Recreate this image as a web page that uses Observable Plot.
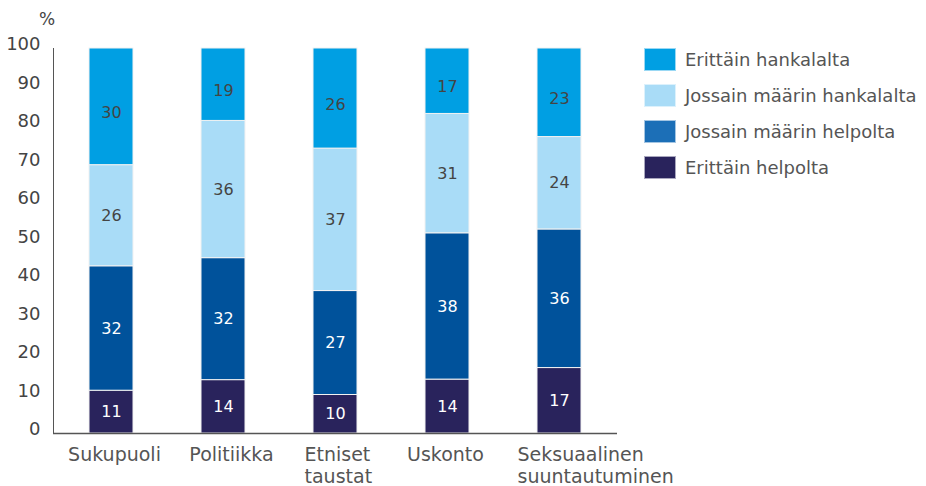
<!DOCTYPE html>
<html>
<head>
<meta charset="utf-8">
<script src="https://cdn.jsdelivr.net/npm/d3@7"></script>
<script src="https://cdn.jsdelivr.net/npm/@observablehq/plot@0.6"></script>
<style>
  html, body { margin: 0; padding: 0; background: #fff; }
  #wrap { position: relative; width: 926px; height: 486px; font-family: "DejaVu Sans", sans-serif; }
  #unit { position: absolute; left: 39px; top: 9px; font-size: 17px; color: #444; }
  #legend { position: absolute; left: 644px; top: 48px; }
  .item { display: flex; align-items: center; height: 23px; margin-bottom: 13px; font-size: 18px; color: #555; }
  .sw { width: 32px; height: 23px; margin-right: 9px; box-sizing: border-box; border: 1px solid rgba(255,255,255,0.6); flex: none; }
</style>
</head>
<body>
<div id="wrap">
  <div id="chart"></div>
  <div id="unit">%</div>
  <div id="legend"></div>
</div>
<script>
const categories = ["Sukupuoli", "Politiikka", "Etniset\ntaustat", "Uskonto", "Seksuaalinen\nsuuntautuminen"];
const series = ["Erittäin helpolta", "Jossain määrin helpolta", "Jossain määrin hankalalta", "Erittäin hankalalta"];
const erittainHelpolta = [11, 14, 10, 14, 17];
const jossainHelpolta = [32, 32, 27, 38, 36];
const jossainHankalalta = [26, 36, 37, 31, 24];
const erittainHankalalta = [30, 19, 26, 17, 23];
const yTicks = [0, 10, 20, 30, 40, 50, 60, 70, 80, 90, 100];
const barColors = ["#29235C", "#00529B", "#A9DCF7", "#009FE3"];
const legendColors = ["#29235C", "#1C6FB7", "#A9DCF7", "#009FE3"];
const labelColors = ["#ffffff", "#ffffff", "#444444", "#444444"];
// label placement as in the reference: [anchor, dx]
const xLabelPlacement = [["middle", 3], ["middle", 8], ["start", -31], ["middle", -2], ["start", -42]];

const valuesBySeries = [erittainHelpolta, jossainHelpolta, jossainHankalalta, erittainHankalalta];
const data = [];
series.forEach((s, si) => {
  categories.forEach((c, ci) => {
    data.push({category: c, series: s, value: valuesBySeries[si][ci], idx: si});
  });
});

const stackOpts = {x: "category", y: "value", z: "series", order: series, offset: "normalize"};

const xAxes = categories.map((c, i) => Plot.axisX([c], {
  tickSize: 0, tickPadding: 12, fontSize: 19, color: "#555", lineHeight: 1.14,
  textAnchor: xLabelPlacement[i][0], dx: xLabelPlacement[i][1], label: null
}));

const chart = Plot.plot({
  width: 926,
  height: 486,
  marginTop: 48,
  marginBottom: 53,
  marginLeft: 53,
  marginRight: 309,
  style: {fontFamily: "DejaVu Sans, sans-serif", background: "#fff"},
  x: {domain: categories, paddingInner: 0.61, paddingOuter: 0.305, label: null},
  y: {transform: d => d * 100, domain: [0, 100], label: null},
  color: {domain: series, range: barColors},
  marks: [
    Plot.ruleY(yTicks, {stroke: "#666", strokeWidth: 1}),
    Plot.barY(data, Plot.stackY({...stackOpts, fill: "series", stroke: "#f2f2f2", strokeWidth: 1})),
    Plot.text(data, Plot.stackY({...stackOpts, text: d => d.idx < 3 ? String(d.value) : null, fill: d => labelColors[d.idx], fontSize: 16})),
    Plot.text(data, Plot.stackY({...stackOpts, text: d => d.idx === 3 ? String(d.value) : null, fill: d => labelColors[d.idx], fontSize: 16, dy: 6})),
    Plot.frame({anchor: "left", stroke: "#555"}),
    Plot.ruleY([0], {stroke: "#555", strokeWidth: 1.5}),
    Plot.axisY({ticks: yTicks, tickSize: 0, tickPadding: 13, fontSize: 18, color: "#444", dy: -4, label: null}),
    ...xAxes
  ]
});
document.getElementById("chart").appendChild(chart);

const legend = document.getElementById("legend");
[...series].reverse().forEach((s) => {
  const i = series.indexOf(s);
  const item = document.createElement("div");
  item.className = "item";
  const sw = document.createElement("div");
  sw.className = "sw";
  sw.style.background = legendColors[i];
  const lab = document.createElement("span");
  lab.textContent = s;
  item.appendChild(sw);
  item.appendChild(lab);
  legend.appendChild(item);
});
</script>
</body>
</html>
